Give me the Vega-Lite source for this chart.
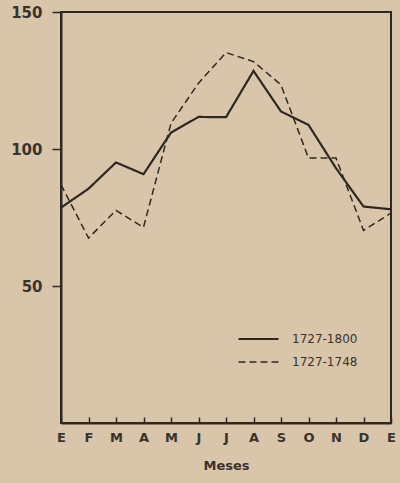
{
  "$schema": "https://vega.github.io/schema/vega-lite/v6.json",
  "width": 330,
  "height": 411,
  "autosize": {"type": "none"},
  "padding": {"left": 61, "top": 12, "right": 9, "bottom": 60},
  "background": "#d9c5a9",
  "config": {
    "view": {"stroke": "#2e2823", "strokeWidth": 2},
    "axis": {"domainColor": "#2e2823", "domainWidth": 2, "tickColor": "#2e2823", "tickWidth": 1.5, "grid": false, "labelColor": "#3a332d", "labelFont": "DejaVu Sans", "labelFontWeight": "bold", "titleFont": "DejaVu Sans", "titleColor": "#3a332d"}
  },
  "data": {"values": [
    {"m": 0, "v": 78.6, "s": "1727-1800"},
    {"m": 1, "v": 85.5, "s": "1727-1800"},
    {"m": 2, "v": 95.1, "s": "1727-1800"},
    {"m": 3, "v": 90.8, "s": "1727-1800"},
    {"m": 4, "v": 106, "s": "1727-1800"},
    {"m": 5, "v": 111.7, "s": "1727-1800"},
    {"m": 6, "v": 111.6, "s": "1727-1800"},
    {"m": 7, "v": 128.5, "s": "1727-1800"},
    {"m": 8, "v": 113.7, "s": "1727-1800"},
    {"m": 9, "v": 108.8, "s": "1727-1800"},
    {"m": 10, "v": 93, "s": "1727-1800"},
    {"m": 11, "v": 79, "s": "1727-1800"},
    {"m": 12, "v": 78, "s": "1727-1800"},
    {"m": 0, "v": 87, "s": "1727-1748"},
    {"m": 1, "v": 67.5, "s": "1727-1748"},
    {"m": 2, "v": 77.6, "s": "1727-1748"},
    {"m": 3, "v": 71.4, "s": "1727-1748"},
    {"m": 4, "v": 109.4, "s": "1727-1748"},
    {"m": 5, "v": 124, "s": "1727-1748"},
    {"m": 6, "v": 135.2, "s": "1727-1748"},
    {"m": 7, "v": 131.9, "s": "1727-1748"},
    {"m": 8, "v": 123.4, "s": "1727-1748"},
    {"m": 9, "v": 96.7, "s": "1727-1748"},
    {"m": 10, "v": 96.7, "s": "1727-1748"},
    {"m": 11, "v": 70.3, "s": "1727-1748"},
    {"m": 12, "v": 76.6, "s": "1727-1748"}
  ]},
  "mark": {"type": "line", "color": "#2e2823", "strokeJoin": "miter"},
  "encoding": {
    "x": {"field": "m", "type": "quantitative", "scale": {"domain": [0, 12], "nice": false, "zero": false},
      "axis": {"values": [0,1,2,3,4,5,6,7,8,9,10,11,12], "labelExpr": "['E','F','M','A','M','J','J','A','S','O','N','D','E'][datum.value]", "tickSize": -6, "labelPadding": 14, "labelFontSize": 13, "labelFlush": false, "title": "Meses", "titleFontSize": 13, "titleFontWeight": "bold", "titlePadding": 15}},
    "y": {"field": "v", "type": "quantitative", "scale": {"domain": [0, 150], "nice": false},
      "axis": {"values": [50, 100, 150], "tickSize": 9, "labelPadding": 10, "labelFontSize": 15, "title": null}},
    "strokeDash": {"field": "s", "type": "nominal", "scale": {"domain": ["1727-1800", "1727-1748"], "range": [[1, 0], [7, 4]]},
      "legend": {"title": null, "orient": "none", "legendX": 176, "legendY": 316, "symbolType": "stroke", "symbolSize": 1600, "symbolStrokeWidth": 1.8, "symbolStrokeColor": "#2e2823", "labelFont": "DejaVu Sans", "labelFontSize": 12, "labelColor": "#3a332d", "labelOffset": 12, "clipHeight": 22, "rowPadding": 1}},
    "strokeWidth": {"field": "s", "type": "nominal", "scale": {"domain": ["1727-1800", "1727-1748"], "range": [2.2, 1.5]}, "legend": null}
  }
}
